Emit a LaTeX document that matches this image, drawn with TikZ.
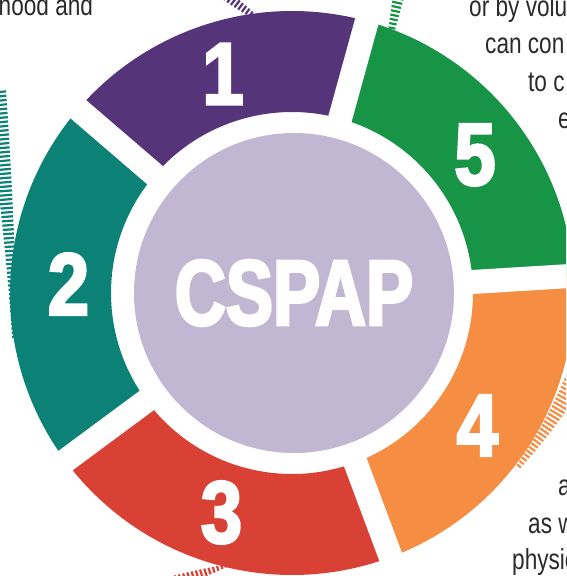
\documentclass[tikz,border=0pt]{standalone}
\usepackage{fontspec}
\setmainfont{Liberation Sans}
\newfontfamily\bodyfont{Liberation Sans}[FakeStretch=0.78]
\newfontfamily\digitfont{Liberation Sans}[UprightFont={* Bold}, FakeStretch=0.84, FakeBold=3]
\newfontfamily\titlefont{Liberation Sans}[UprightFont={* Bold}, FakeStretch=0.76, FakeBold=3]
\usetikzlibrary{decorations.markings}

\definecolor{seggreen}{HTML}{179446}
\definecolor{segpurple}{HTML}{55347A}
\definecolor{segteal}{HTML}{0C8276}
\definecolor{segred}{HTML}{D84134}
\definecolor{segorange}{HTML}{F58E43}
\definecolor{hubfill}{HTML}{C1B7D3}
\definecolor{inkgray}{HTML}{2A2A2A}

\tikzset{
  seglabel/.style={text=white, inner sep=0pt,
    font=\digitfont\fontsize{88}{88}\selectfont},
  bodytext/.style={text=inkgray, inner sep=0pt, anchor=base west,
    font=\bodyfont\fontsize{29}{37}\selectfont},
  % tapered tick hatching: colour / start half-length / end half-length
  hatch/.style n args={3}{
    decoration={markings,
      mark=between positions 0 and 1 step 4.3pt with {
        \pgfmathsetmacro\ticklen{#2+(#3-#2)*\pgfkeysvalueof{/pgf/decoration/mark info/distance from start}/\pgfdecoratedpathlength}
        \draw[#1, line width=2.2pt] (0pt,-\ticklen pt) -- (0pt,\ticklen pt);
      }},
    decorate}
}

\begin{document}
\begin{tikzpicture}[x=1pt,y=-1pt]
\useasboundingbox (0,0) rectangle (566,576);
\clip (0,0) rectangle (566,576);

\coordinate (c) at (292,293);

% ring of five segments, separated by white radial bands
\begin{scope}[shift={(c)}, yscale=-1]
  \foreach \a/\b/\col in {3.5/74.6/seggreen, 74.6/139.3/segpurple,
      139.3/216.5/segteal, 216.5/290.5/segred, 290.5/363.5/segorange}
    \fill[\col] (\a:181) arc[start angle=\a, end angle=\b, radius=181]
      -- (\b:282) arc[start angle=\b, end angle=\a, radius=282] -- cycle;
  \foreach \g in {3.5,74.6,139.3,216.5,290.5}
    \draw[white, line width=24pt] (0,0) -- (\g:300);
\end{scope}

% hub
\node[circle, fill=hubfill, minimum size=320pt, inner sep=0pt, text=white,
  font=\titlefont\fontsize{93}{93}\selectfont] (hub) at (294,293) {CSPAP};

% segment numbers
\node[seglabel] (n1) at (223,74) {1};
\node[seglabel] (n2) at (68.5,284) {2};
\node[seglabel] (n3) at (221.5,512.5) {3};
\node[seglabel] (n4) at (477.5,425.5) {4};
\node[seglabel] (n5) at (475,155) {5};

% hatched leaders running off from the ring
\coordinate (h1a) at (251,14);  \coordinate (h1b) at (226,-5);
\coordinate (h2a) at (14,337);  \coordinate (h2b) at (-4,90);
\coordinate (h3a) at (226,566); \coordinate (h3b) at (175,583);
\coordinate (h4a) at (519,466); \coordinate (h4b) at (578,372);
\coordinate (h5a) at (392,28);  \coordinate (h5b) at (400,-10);

\path[hatch={segpurple}{3}{5.5}] (h1a) .. controls (244,9) and (237,4) .. (h1b);
\path[hatch={segteal}{2}{10}] (h2a) .. controls (12,270) and (6,190) .. (h2b);
\path[hatch={segred}{1.5}{7.5}] (h3a) .. controls (212,570) and (200,574) .. (h3b);
\path[hatch={segorange}{2.5}{10}] (h4a) .. controls (537,442) and (556,418) .. (h4b);
\path[hatch={seggreen}{3.5}{6}] (h5a) .. controls (394,18) and (396,8) .. (h5b);

% surrounding text
\node[bodytext] (t1) at (-1.5,15) {hood and};
\node[bodytext] (t2) at (469,16) {or by volu};
\node[bodytext] (t3) at (485,53) {can con};
\node[bodytext] (t4) at (528,91) {to c};
\node[bodytext] (t5) at (558,128) {e};
\node[bodytext] (t6) at (558,495) {a};
\node[bodytext] (t7) at (528,533) {as w};
\node[bodytext] (t8) at (512,569) {physic};
\end{tikzpicture}
\end{document}
